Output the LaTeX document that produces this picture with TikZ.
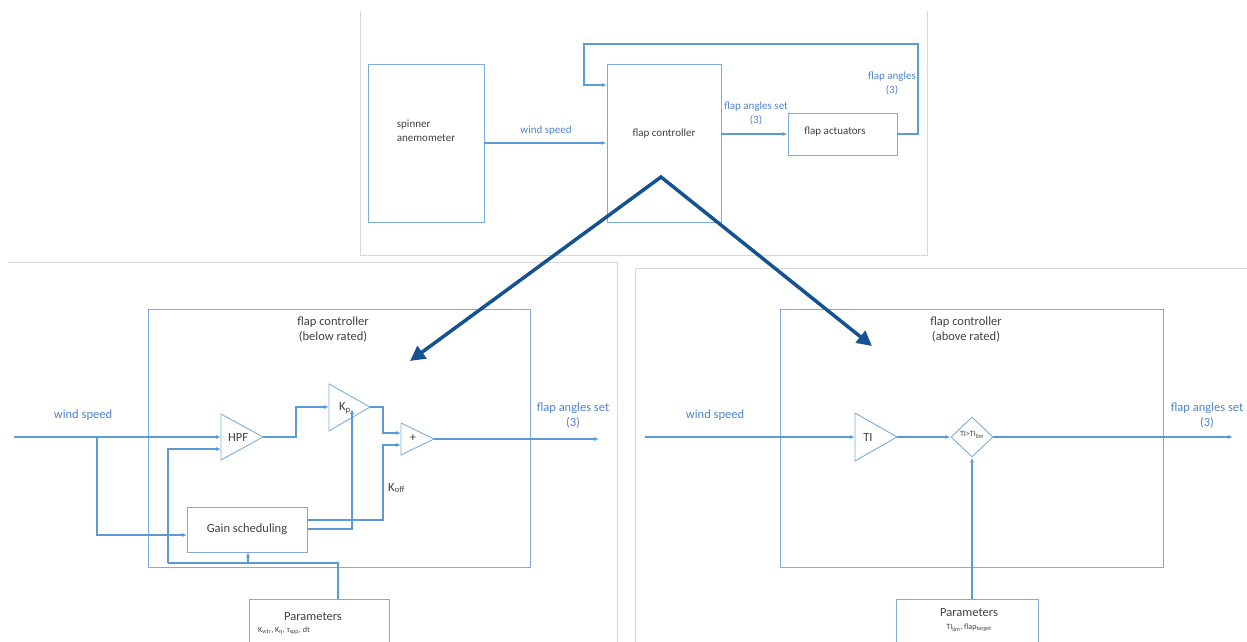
\documentclass[tikz,border=0pt]{standalone}
\usepackage{fontspec}
\setmainfont{Carlito}
\usetikzlibrary{arrows.meta,calc,shapes.geometric}
\definecolor{lineblue}{RGB}{91,155,213}
\definecolor{boxblue}{RGB}{125,172,220}
\definecolor{lblblue}{RGB}{80,130,205}
\definecolor{txt}{RGB}{64,64,64}
\definecolor{bigblue}{RGB}{22,82,145}
\definecolor{panel}{RGB}{215,215,215}
\begin{document}
\begin{tikzpicture}[x=1pt,y=-1pt,
  box/.style={draw=boxblue,line width=0.9pt,inner sep=0pt},
  sig/.style={draw=lineblue,line width=1.3pt,-{Latex[length=5pt,width=4pt]}},
  wire/.style={draw=lineblue,line width=1.3pt},
  frame/.style={draw=panel,line width=0.8pt},
  tA/.style={text=txt,font=\fontsize{11}{14}\selectfont,inner sep=0pt},
  lbA/.style={text=lblblue,font=\fontsize{11}{14}\selectfont,inner sep=0pt},
  tB/.style={text=txt,font=\fontsize{12.5}{15}\selectfont,inner sep=0pt},
  lbB/.style={text=lblblue,font=\fontsize{12.5}{15}\selectfont,inner sep=0pt},
  tXS/.style={text=txt,font=\fontsize{8}{10}\selectfont,inner sep=0pt}
]
\useasboundingbox (0,0) rectangle (1247,642);
% ---------------- top panel ----------------
\draw[frame] (360,11) -- (360,255) -- (927,255) -- (927,11);
\node[box,minimum width=116pt,minimum height=158pt] (spin) at (426,143) {};
\node[tA,align=left] (spint) at (426,131) {spinner\\anemometer};
\node[box,minimum width=114pt,minimum height=158pt] (fc) at (664,143) {};
\node[tA] (fct) at (664,134) {flap controller};
\node[box,minimum width=109pt,minimum height=42pt] (act) at (842.5,134) {};
\node[tA] (actt) at (835,132) {flap actuators};
\draw[sig] (spin.east) -- (fc.west);
\draw[sig] (fc.east |- act.west) -- (act.west);
\coordinate (fbR) at (918,44);
\coordinate (fbL) at (584,44);
\coordinate (fcIn2) at (607,85);
\draw[sig] (act.east) -| (fbR) -- (fbL) |- (fcIn2);
\node[lbA] (wsT) at (546,131) {wind speed};
\node[lbA,align=center] (fasT) at (756,113) {flap angles set\\(3)};
\node[lbA,align=center] (faT) at (892,83) {flap angles\\(3)};
% ---------------- left panel ----------------
\draw[frame] (8,262) -- (617,262) -- (617,642);
\node[box,minimum width=382pt,minimum height=258pt] (fcL) at (339,438) {};
\node[tB,align=center] (fcLt) at (333,330) {flap controller\\(below rated)};
\coordinate (hpfA) at (263,437);
\draw[box] (221,414) -- (hpfA) -- (221,460) -- cycle;
\node[tB] (hpf) at (238,437) {HPF};
\coordinate (hpfI1) at (221,437);
\coordinate (hpfI2) at (221,449);
\coordinate (kpA) at (370,407);
\draw[box] (329,384) -- (kpA) -- (329,431) -- cycle;
\node[tB] (kp) at (345,408) {K\textsubscript{p}};
\coordinate (kpI) at (329,407);
\coordinate (kpG) at (352,409);
\coordinate (plA) at (434,439);
\draw[box] (401,423) -- (plA) -- (401,455) -- cycle;
\node[tB] (pl) at (413,438) {+};
\coordinate (plI1) at (401,433);
\coordinate (plI2) at (401,445);
\node[box,minimum width=120pt,minimum height=45pt,text=txt,font=\fontsize{12.5}{15}\selectfont] (gs) at (247,529.5) {Gain scheduling};
\coordinate (gsI) at (187,535);
\coordinate (gsO1) at (307,520);
\coordinate (gsO2) at (307,529);
\coordinate (gsB) at (248,552);
\node[box,minimum width=140pt,minimum height=70pt] (parL) at (319,634) {};
\node[tB] (parLt) at (313,617) {Parameters};
\node[tXS,anchor=west] (parLs) at (258,631) {K\textsubscript{wtr}, K\textsubscript{η}, τ\textsubscript{spp}, dt};
\coordinate (parLo) at (338,599);
\coordinate (wsLc) at (14,437);
\coordinate (brL) at (97,437);
\draw[sig] (wsLc) -- (hpfI1);
\draw[sig] (brL) |- (gsI);
\coordinate (pbus) at (338,563);
\coordinate (pbL) at (168,563);
\coordinate (pbG) at (248,563);
\draw[wire] (parLo) -- (pbus) -- (pbL);
\draw[sig] (pbL) |- (hpfI2);
\draw[sig] (pbG) -- (gsB);
\coordinate (hk) at (296,407);
\draw[sig] (hpfA) -| (hk) -- (kpI);
\coordinate (kpB) at (383,433);
\draw[sig] (kpA) -| (kpB) -- (plI1);
\coordinate (gsD) at (383,445);
\draw[sig] (gsO1) -| (gsD) -- (plI2);
\node[tB,anchor=west] (koff) at (388,488) {K\textsubscript{off}};
\coordinate (gsE) at (352,529);
\draw[sig] (gsO2) -- (gsE) -- (kpG);
\coordinate (outL) at (599,439);
\draw[sig] (plA) -- (outL);
\node[lbB,align=center] (fasL) at (573,416) {flap angles set\\(3)};
\node[lbB] (wsLt) at (83,415) {wind speed};
% ---------------- right panel ----------------
\draw[frame] (635,642) -- (635,268) -- (1247,268);
\node[box,minimum width=383pt,minimum height=258pt] (fcR) at (971.5,438) {};
\node[tB,align=center] (fcRt) at (966,330) {flap controller\\(above rated)};
\coordinate (tiA) at (897,437);
\draw[box] (855,413) -- (tiA) -- (855,461) -- cycle;
\node[tB] (ti) at (868,437) {TI};
\coordinate (tiI) at (855,437);
\node[box,diamond,minimum width=42pt,minimum height=40pt] (cmp) at (972,437) {};
\node[tXS] (cmpt) at (972,435) {TI>TI\textsubscript{lim}};
\coordinate (wsRc) at (645,437);
\draw[sig] (wsRc) -- (tiI);
\draw[sig] (tiA) -- (cmp.west);
\coordinate (outR) at (1233,437);
\draw[sig] (cmp.east) -- (outR);
\node[box,minimum width=142pt,minimum height=70pt] (parR) at (967,634) {};
\node[tB] (parRt) at (969,613) {Parameters};
\node[tXS] (parRs) at (969,628) {TI\textsubscript{lim}, flap\textsubscript{target}};
\draw[sig] (parR.north -| cmp.south) -- (cmp.south);
\node[lbB] (wsRt) at (715,415) {wind speed};
\node[lbB,align=center] (fasR) at (1207,416) {flap angles set\\(3)};
% ---------------- big arrows ----------------
\coordinate (apex) at (661,177);
\coordinate (tipL) at (410,361);
\coordinate (tipR) at (872,346);
\draw[bigblue,line width=3.5pt,line join=miter,{Triangle[length=15pt,width=15pt]}-{Triangle[length=15pt,width=15pt]}] (tipL) -- (apex) -- (tipR);
\end{tikzpicture}
\end{document}
